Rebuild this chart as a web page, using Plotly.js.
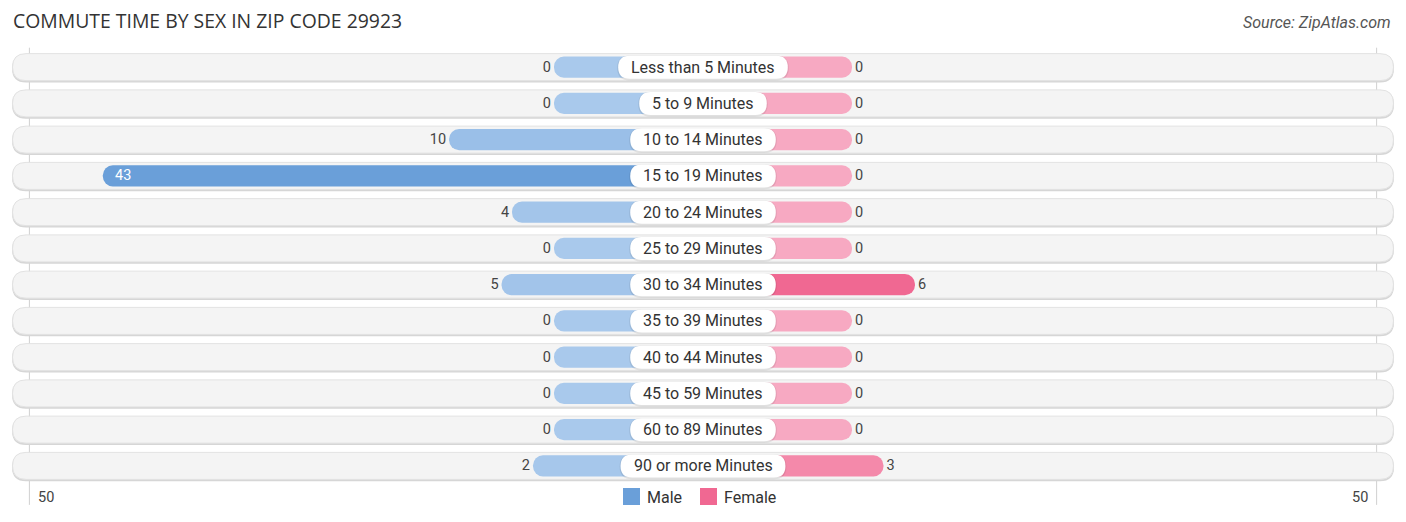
<!DOCTYPE html>
<html>
<head>
<meta charset="utf-8">
<script src="https://cdn.plot.ly/plotly-3.0.1.min.js"></script>
<style>
  html, body { margin: 0; padding: 0; background: #fff; }
  #chart { width: 1406px; height: 522px; }
</style>
</head>
<body>
<div id="chart"></div>
<script>
// data
const categories = [
  "Less than 5 Minutes", "5 to 9 Minutes", "10 to 14 Minutes", "15 to 19 Minutes",
  "20 to 24 Minutes", "25 to 29 Minutes", "30 to 34 Minutes", "35 to 39 Minutes",
  "40 to 44 Minutes", "45 to 59 Minutes", "60 to 89 Minutes", "90 or more Minutes"
];
const male = [0, 0, 10, 43, 4, 0, 5, 0, 0, 0, 0, 2];
const female = [0, 0, 0, 0, 0, 0, 6, 0, 0, 0, 0, 3];
const axisMax = 50;

// zero-valued bars still get a stub so they show up behind the label
const STUB = 14.2;
const XR = 67;

// colour ramps, light (small) to dark (largest)
const maleLight = [169, 201, 236], maleDark = [106, 159, 217];
const femLight = [247, 169, 194], femDark = [240, 104, 146];

function mix(a, b, t) {
  const c = a.map((v, i) => Math.round(v + (b[i] - v) * t));
  return `rgb(${c[0]},${c[1]},${c[2]})`;
}
function colorsFor(vals, light, dark) {
  const mx = Math.max(...vals) || 1;
  return vals.map(v => mix(light, dark, v / mx));
}

const ctx = document.createElement("canvas").getContext("2d");
ctx.font = "16px Roboto";
const textW = s => ctx.measureText(s).width;

// rounded rect path in pixel units, centred on the anchor
function pill(w, h, r, dy) {
  const x0 = -w / 2, x1 = w / 2, y0 = -h / 2 + (dy || 0), y1 = h / 2 + (dy || 0);
  return `M${x0 + r},${y0} L${x1 - r},${y0} Q${x1},${y0} ${x1},${y0 + r} L${x1},${y1 - r} ` +
         `Q${x1},${y1} ${x1 - r},${y1} L${x0 + r},${y1} Q${x0},${y1} ${x0},${y1 - r} ` +
         `L${x0},${y0 + r} Q${x0},${y0} ${x0 + r},${y0} Z`;
}

// big bars carry their value inside, in white
const maxMale = Math.max(...male);
const insideMale = male.map(v => v === maxMale && v > 20);

const maleTrace = {
  type: "bar", orientation: "h", name: "Male",
  y: categories.map((c, i) => i),
  x: male.map(v => -(v + STUB)),
  text: male.map((v, i) => insideMale[i] ? "" : String(v)),
  textposition: "outside",
  outsidetextfont: { family: "Roboto", size: 14.5, color: "#444444" },
  constraintext: "none", cliponaxis: false,
  width: 0.58,
  marker: { color: colorsFor(male, maleLight, maleDark), cornerradius: 10 },
  hoverinfo: "skip",
  showlegend: false
};

const femaleTrace = {
  type: "bar", orientation: "h", name: "Female",
  y: categories.map((c, i) => i),
  x: female.map(v => v + STUB),
  text: female.map(String),
  textposition: "outside",
  outsidetextfont: { family: "Roboto", size: 14.5, color: "#444444" },
  constraintext: "none", cliponaxis: false,
  width: 0.58,
  marker: { color: colorsFor(female, femLight, femDark), cornerradius: 10 },
  hoverinfo: "skip",
  showlegend: false
};

const shapes = [];
const annotations = [];

// row backgrounds
categories.forEach((c, i) => {
  shapes.push({
    type: "path", layer: "below", xref: "x", yref: "y", xsizemode: "pixel", ysizemode: "pixel",
    xanchor: 0, yanchor: i, path: pill(1382, 28, 14, -1.4),
    fillcolor: "#d6d6d6", line: { width: 0 }
  });
  shapes.push({
    type: "path", layer: "below", xref: "x", yref: "y", xsizemode: "pixel", ysizemode: "pixel",
    xanchor: 0, yanchor: i, path: pill(1381, 27, 13.5, 0),
    fillcolor: "#f4f4f4", line: { color: "#e2e2e2", width: 1 }
  });
});

// vertical guide lines at the axis limit
[-1, 1].forEach(s => {
  shapes.push({
    type: "line", layer: "below", xref: "x", yref: "paper",
    x0: s * (axisMax + STUB), x1: s * (axisMax + STUB), y0: -0.048, y1: 1.003,
    line: { color: "#d0d0d0", width: 1 }
  });
});

// value labels drawn inside the big bars
male.forEach((v, i) => {
  if (!insideMale[i]) return;
  annotations.push({
    x: -(v + STUB), y: i, xref: "x", yref: "y", xshift: 10,
    text: String(v), showarrow: false, xanchor: "left", yanchor: "middle",
    font: { family: "Roboto", size: 14.5, color: "#ffffff" }
  });
});

// category label boxes
categories.forEach((c, i) => {
  const w = textW(c) + 26;
  shapes.push({
    type: "path", layer: "above", xref: "x", yref: "y", xsizemode: "pixel", ysizemode: "pixel",
    xanchor: 0, yanchor: i, path: pill(w + 2, 25, 12.5, -0.8),
    fillcolor: "rgba(0,0,0,0.08)", line: { width: 0 }
  });
  shapes.push({
    type: "path", layer: "above", xref: "x", yref: "y", xsizemode: "pixel", ysizemode: "pixel",
    xanchor: 0, yanchor: i, path: pill(w, 23, 11.5, 0),
    fillcolor: "#ffffff", line: { width: 0 }
  });
  annotations.push({
    x: 0, y: i, xref: "x", yref: "y", text: c, showarrow: false,
    xanchor: "center", yanchor: "middle",
    font: { family: "Roboto", size: 16, color: "#333333" }
  });
});

// axis end labels
annotations.push({
  x: -(axisMax + STUB), y: -0.03, xref: "x", yref: "paper", xshift: 7,
  text: String(axisMax), showarrow: false, xanchor: "left", yanchor: "middle",
  font: { family: "Roboto", size: 14.5, color: "#444444" }
});
annotations.push({
  x: axisMax + STUB, y: -0.03, xref: "x", yref: "paper", xshift: -7,
  text: String(axisMax), showarrow: false, xanchor: "right", yanchor: "middle",
  font: { family: "Roboto", size: 14.5, color: "#444444" }
});

// legend
const legendItems = [
  { name: "Male", color: "rgb(106,159,217)", px: -80 },
  { name: "Female", color: "rgb(240,104,146)", px: -3 }
];
legendItems.forEach(it => {
  shapes.push({
    type: "rect", xref: "paper", yref: "paper", xsizemode: "pixel", ysizemode: "pixel",
    xanchor: 0.5, yanchor: 0, x0: it.px, x1: it.px + 17, y0: -21, y1: -4,
    fillcolor: it.color, line: { width: 0 }
  });
  annotations.push({
    x: 0.5, y: -0.03, xref: "paper", yref: "paper", xshift: it.px + 22,
    text: it.name, showarrow: false, xanchor: "left", yanchor: "middle",
    font: { family: "Roboto", size: 16, color: "#333333" }
  });
});

// source
annotations.push({
  x: 0.9908, y: 1.06, xref: "paper", yref: "paper",
  text: "<i>Source: ZipAtlas.com</i>", showarrow: false, xanchor: "right", yanchor: "middle",
  font: { family: "Roboto", size: 16, color: "#555555" }
});

const layout = {
  width: 1406, height: 522,
  margin: { l: 0, r: 0, t: 49, b: 38 },
  paper_bgcolor: "#ffffff", plot_bgcolor: "#ffffff",
  title: {
    text: "COMMUTE TIME BY SEX IN ZIP CODE 29923",
    x: 13 / 1406, xanchor: "left", xref: "container",
    y: 1 - 21 / 522, yanchor: "middle", yref: "container",
    font: { family: "Open Sans", size: 19.4, color: "#333333" }
  },
  barmode: "overlay",
  xaxis: { range: [-XR, XR], visible: false, fixedrange: true },
  yaxis: { range: [categories.length - 0.5, -0.5], visible: false, fixedrange: true },
  shapes: shapes,
  annotations: annotations,
  showlegend: false
};

Plotly.newPlot("chart", [maleTrace, femaleTrace], layout, { displayModeBar: false, staticPlot: true });
</script>
</body>
</html>
